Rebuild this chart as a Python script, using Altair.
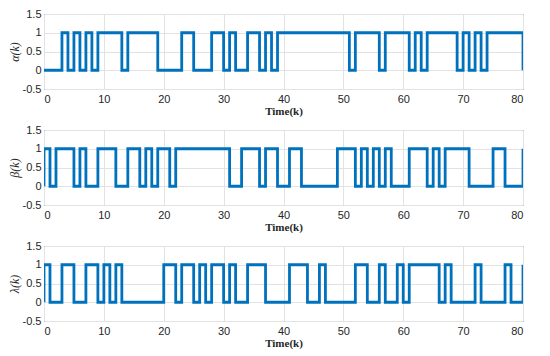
import altair as alt
import pandas as pd

# time index
k_values = list(range(81))

# binary sequences (value held on [k, k+1))
alpha = [0,0,0,1,0,1,0,1,0,1,
         1,1,1,0,1,1,1,1,1,0,
         0,0,0,1,1,0,0,0,1,1,
         0,1,0,0,1,1,0,1,0,1,
         1,1,1,1,1,1,1,1,1,1,
         1,0,1,1,1,1,0,1,1,1,
         1,0,1,0,1,1,1,1,1,0,
         1,0,1,0,1,1,1,1,1,1,
         0]

beta = [1,0,1,1,1,0,1,0,0,1,
        1,1,0,0,1,1,0,1,0,1,
        1,0,1,1,1,1,1,1,1,1,
        1,0,0,1,1,1,0,1,1,0,
        0,1,1,0,0,0,0,0,0,1,
        1,1,0,1,0,1,0,1,0,0,
        0,1,1,1,0,1,0,1,1,1,
        1,0,0,0,0,1,1,0,0,0,
        1]

lam = [1,0,0,1,1,0,0,1,1,0,
       1,0,1,0,0,0,0,0,0,0,
       1,1,0,1,1,0,1,0,1,1,
       0,1,0,0,1,1,1,0,0,0,
       0,1,1,1,0,0,1,0,0,0,
       0,0,1,1,0,0,1,0,0,1,
       0,1,1,1,1,1,0,1,0,0,
       0,0,1,0,0,0,0,1,0,0,
       1]

y_titles = ["α(k)", "β(k)", "λ(k)"]
x_ticks = [0, 10, 20, 30, 40, 50, 60, 70, 80]
y_ticks = [-0.5, 0, 0.5, 1, 1.5]

LINE = "#0072BD"
TXT = "#262626"


def panel(vals, ytitle):
    df = pd.DataFrame({
        "k": [0] + k_values,
        "v": [0] + vals,
        "o": list(range(len(vals) + 1)),
    })
    return alt.Chart(df).mark_line(
        interpolate="step-after", color=LINE, strokeWidth=2.8, clip=True
    ).encode(
        x=alt.X("k:Q",
                scale=alt.Scale(domain=[0, 80], nice=False, zero=False),
                axis=alt.Axis(values=x_ticks, title="Time(k)", ticks=False,
                              domain=False, labelPadding=4, labelFontSize=11,
                              labelFont="Liberation Sans", labelColor=TXT,
                              titleFont="Liberation Serif", titleFontSize=11,
                              titleFontWeight="bold", titleColor=TXT,
                              titlePadding=1, gridColor="#e2e2e2",
                              labelExpr="'' + datum.value")),
        y=alt.Y("v:Q",
                scale=alt.Scale(domain=[-0.5, 1.5], nice=False, zero=False),
                axis=alt.Axis(values=y_ticks, title=ytitle, ticks=False,
                              domain=False, labelPadding=3, labelFontSize=11,
                              labelFont="Liberation Sans", labelColor=TXT,
                              titleFont="Liberation Serif", titleFontSize=12,
                              titleFontStyle="italic", titleFontWeight="normal",
                              titleColor=TXT, titlePadding=1,
                              gridColor="#e2e2e2",
                              labelExpr="'' + datum.value")),
        order="o:Q",
    ).properties(width=479, height=75)


chart = alt.vconcat(
    panel(alpha, y_titles[0]),
    panel(beta, y_titles[1]),
    panel(lam, y_titles[2]),
    spacing=41,
    bounds="flush",
).properties(
    padding={"left": -1, "top": -1, "right": 5, "bottom": 0},
    background="white",
).configure_view(stroke="#3a3a3a", strokeWidth=1)

chart.save("out.html", embed_options={"renderer": "svg", "actions": False})
